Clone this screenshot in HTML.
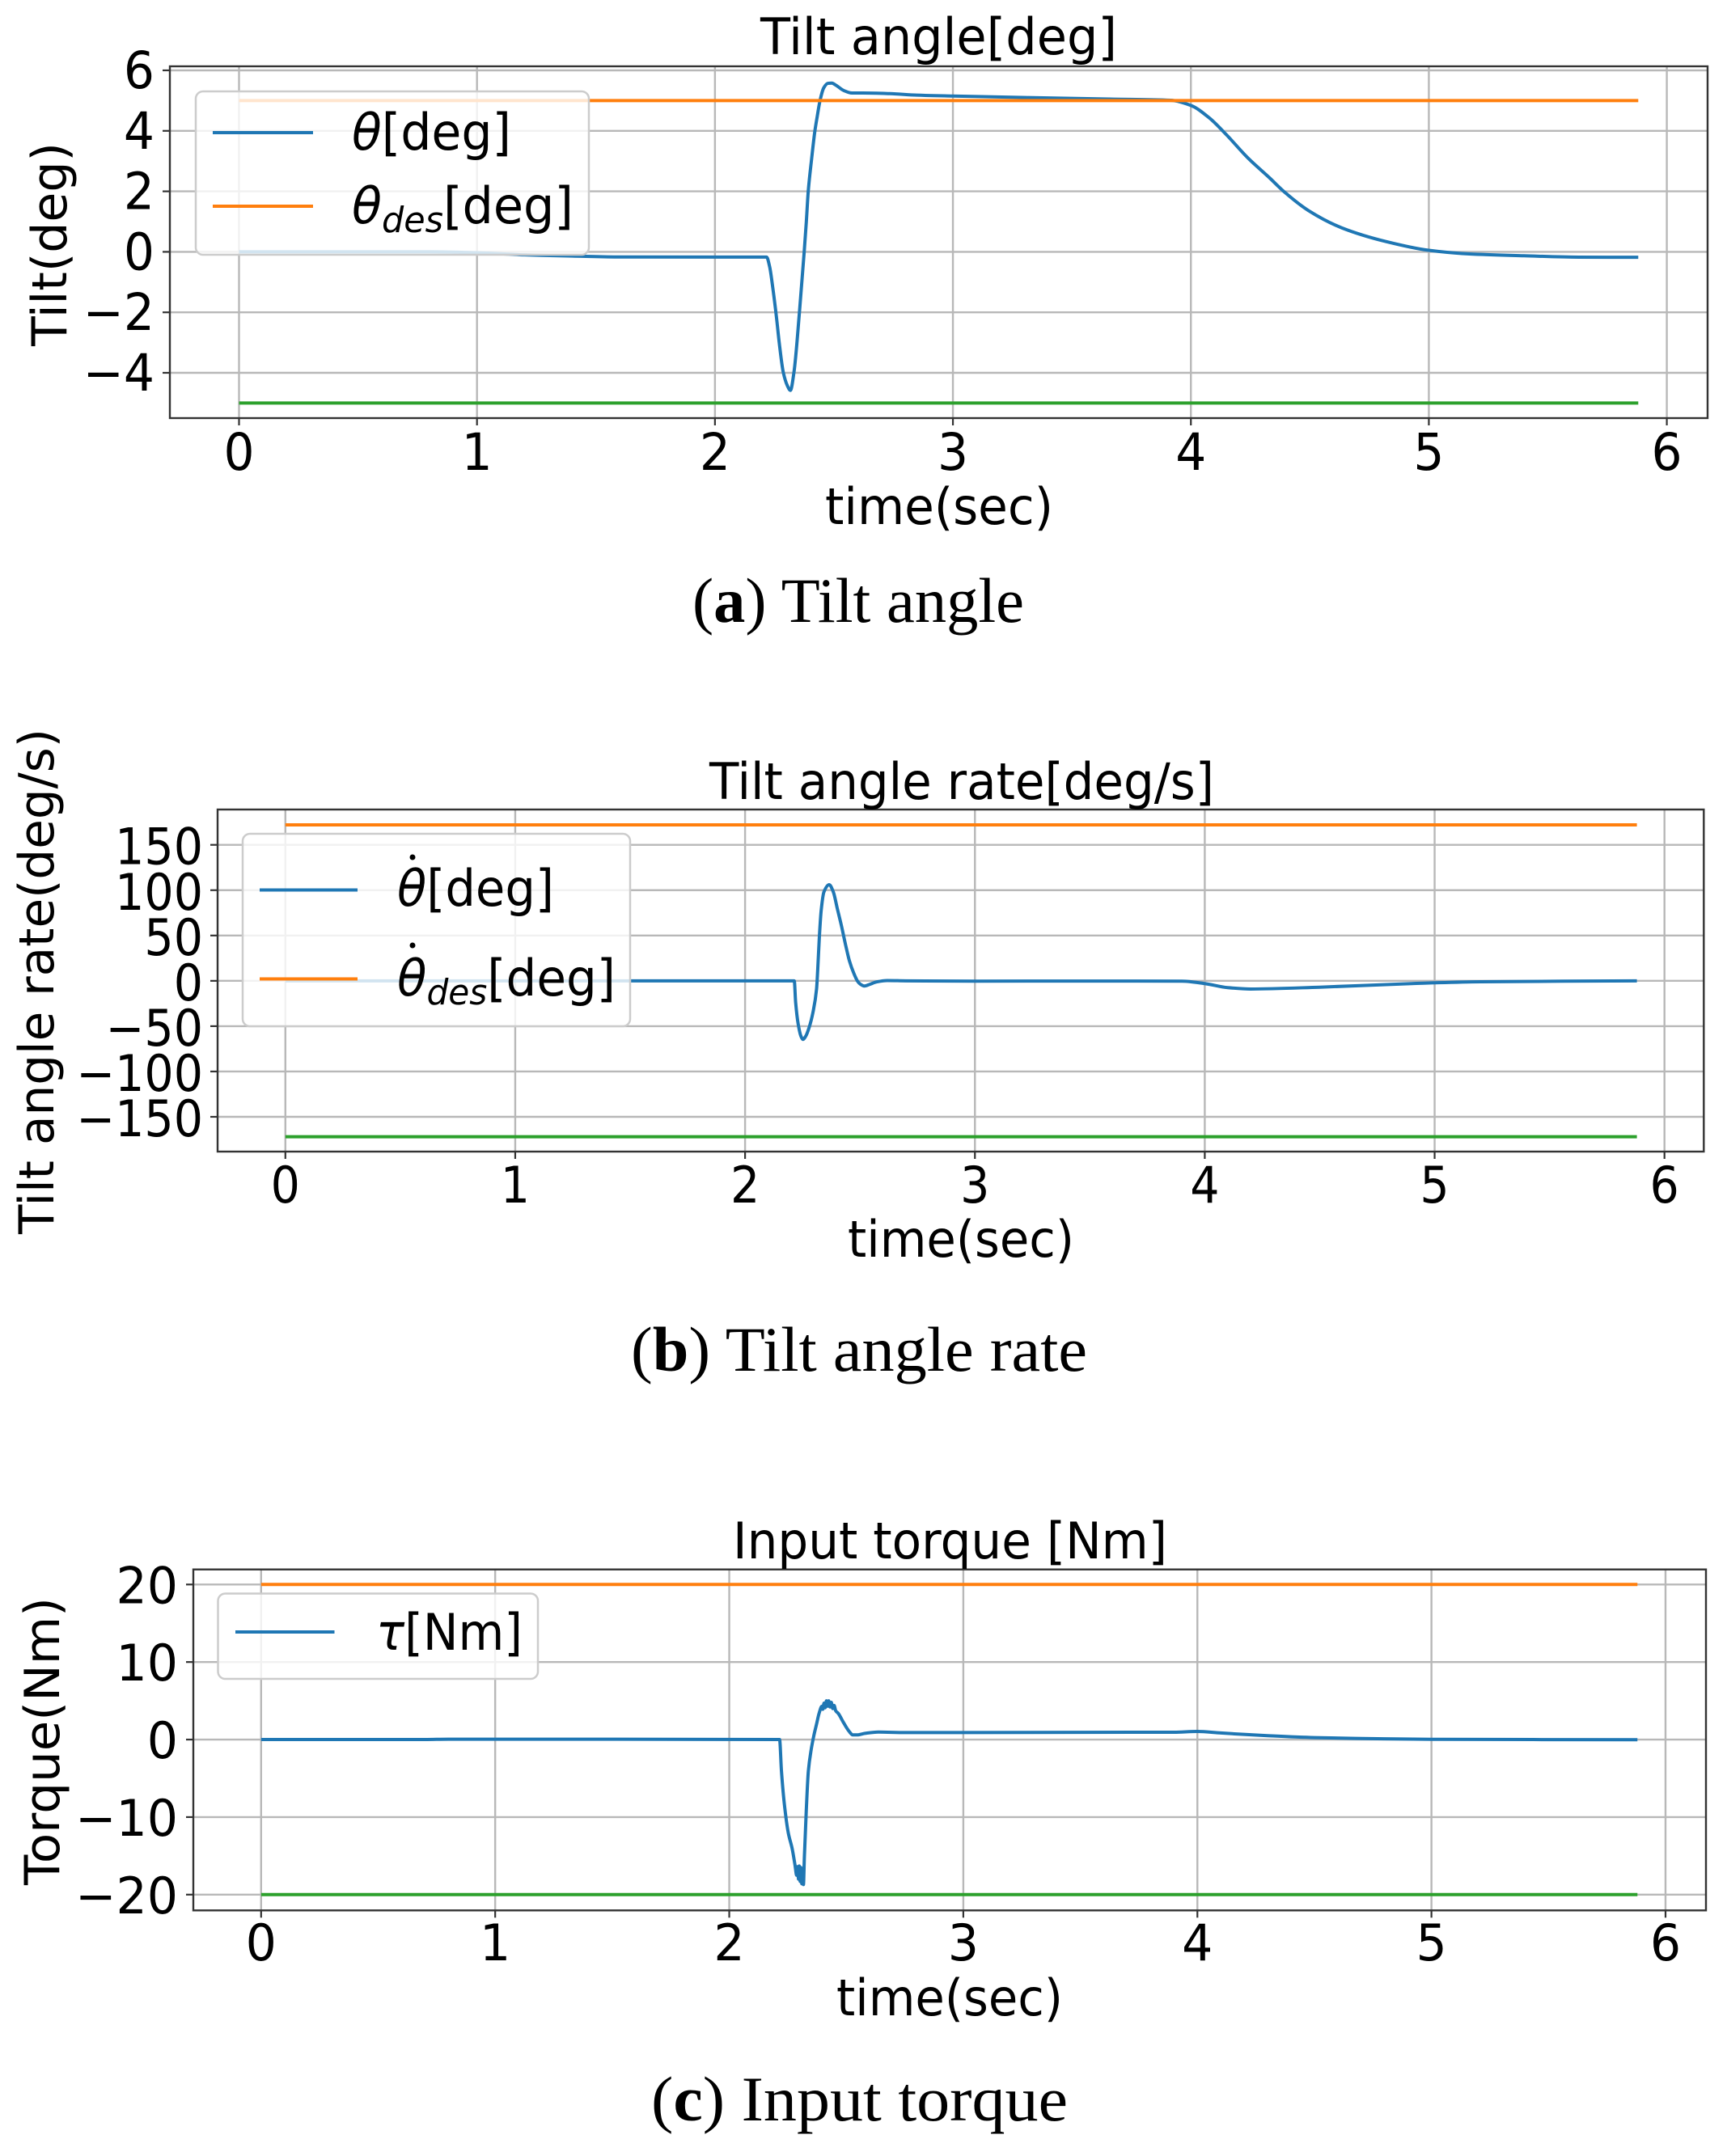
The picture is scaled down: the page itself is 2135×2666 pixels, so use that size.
<!DOCTYPE html>
<html lang="en">
<head>
<meta charset="utf-8">
<title>Tilt angle, tilt rate and input torque</title>
<style>
html,body{margin:0;padding:0;background:#fff;}
svg{display:block;}
text{font-family:"DejaVu Sans",sans-serif;fill:#000;}
.cap{font-family:"Liberation Serif",serif;font-size:78px;fill:#000;}
.lbl{font-size:62px;}
.rot{font-size:60px;}
.leg{font-size:62px;}
.i{font-style:italic;}
.legbox{fill:#fff;fill-opacity:.8;stroke:#ccc;stroke-width:2.5;}
</style>
</head>
<body>
<svg id="fig" xmlns="http://www.w3.org/2000/svg" width="2135" height="2666" viewBox="0 0 2135 2666">
  <rect x="0" y="0" width="2135" height="2666" fill="#fff"/>

  <!-- Panel A -->
  <g id="plotA"></g>
  <text class="lbl" x="940" y="67" textLength="441" lengthAdjust="spacingAndGlyphs">Tilt angle[deg]</text>
  <text class="lbl" x="1020" y="648" textLength="282" lengthAdjust="spacingAndGlyphs">time(sec)</text>
  <text class="rot" transform="translate(82,428) rotate(-90)" x="0" y="0" textLength="252" lengthAdjust="spacingAndGlyphs">Tilt(deg)</text>
  <g>
    <rect class="legbox" x="242" y="113" width="486" height="202" rx="9"/>
    <line x1="263" x2="387" y1="164" y2="164" stroke="#1f77b4" stroke-width="4"/>
    <line x1="263" x2="387" y1="255" y2="255" stroke="#ff7f0e" stroke-width="4"/>
    <text class="leg" x="435" y="185" textLength="197" lengthAdjust="spacingAndGlyphs"><tspan class="i">θ</tspan>[deg]</text>
    <text class="leg" x="435" y="276" textLength="274" lengthAdjust="spacingAndGlyphs"><tspan class="i">θ</tspan><tspan class="i" font-size="44" dy="11">des</tspan><tspan dy="-11">[deg]</tspan></text>
  </g>
  <text class="cap" x="856" y="769" textLength="410" lengthAdjust="spacingAndGlyphs">(<tspan font-weight="bold">a</tspan>) Tilt angle</text>

  <!-- Panel B -->
  <g id="plotB"></g>
  <text class="lbl" x="877" y="988" textLength="624" lengthAdjust="spacingAndGlyphs">Tilt angle rate[deg/s]</text>
  <text class="lbl" x="1048" y="1554" textLength="280" lengthAdjust="spacingAndGlyphs">time(sec)</text>
  <text class="rot" transform="translate(66,1526) rotate(-90)" x="0" y="0" textLength="625" lengthAdjust="spacingAndGlyphs">Tilt angle rate(deg/s)</text>
  <g>
    <rect class="legbox" x="300" y="1031" width="479" height="238" rx="9"/>
    <line x1="321" x2="442" y1="1100.5" y2="1100.5" stroke="#1f77b4" stroke-width="4"/>
    <line x1="321" x2="442" y1="1210.5" y2="1210.5" stroke="#ff7f0e" stroke-width="4"/>
    <circle cx="510" cy="1060" r="3.5" fill="#000"/>
    <circle cx="510" cy="1169" r="3.5" fill="#000"/>
    <text class="leg" x="491" y="1120" textLength="194" lengthAdjust="spacingAndGlyphs"><tspan class="i">θ</tspan>[deg]</text>
    <text class="leg" x="491" y="1231" textLength="270" lengthAdjust="spacingAndGlyphs"><tspan class="i">θ</tspan><tspan class="i" font-size="44" dy="11">des</tspan><tspan dy="-11">[deg]</tspan></text>
  </g>
  <text class="cap" x="780" y="1695" textLength="564" lengthAdjust="spacingAndGlyphs">(<tspan font-weight="bold">b</tspan>) Tilt angle rate</text>

  <!-- Panel C -->
  <g id="plotC"></g>
  <text class="lbl" x="906" y="1927" textLength="537" lengthAdjust="spacingAndGlyphs">Input torque [Nm]</text>
  <text class="lbl" x="1034" y="2492" textLength="280" lengthAdjust="spacingAndGlyphs">time(sec)</text>
  <text class="rot" transform="translate(73,2331) rotate(-90)" x="0" y="0" textLength="356" lengthAdjust="spacingAndGlyphs">Torque(Nm)</text>
  <g>
    <rect class="legbox" x="269.5" y="1970.5" width="395.5" height="105.5" rx="9"/>
    <line x1="291" x2="413.5" y1="2018" y2="2018" stroke="#1f77b4" stroke-width="4"/>
    <text class="leg" x="465" y="2040" textLength="181" lengthAdjust="spacingAndGlyphs"><tspan class="i">τ</tspan>[Nm]</text>
  </g>
  <text class="cap" x="805" y="2622" textLength="515" lengthAdjust="spacingAndGlyphs">(<tspan font-weight="bold">c</tspan>) Input torque</text>
</svg>

<script>
// ---------- Panel A data ----------
const aXTicks = [0, 1, 2, 3, 4, 5, 6];
const aXTickLabels = ['0', '1', '2', '3', '4', '5', '6'];
const aYTicks = [-4, -2, 0, 2, 4, 6];
const aYTickLabels = ['\u22124', '\u22122', '0', '2', '4', '6'];
const aTime = [0, 0.8, 1.0, 1.2, 1.4, 1.6, 2.055, 2.217, 2.230, 2.242, 2.259, 2.270, 2.287, 2.304, 2.317, 2.332, 2.355, 2.375, 2.384, 2.392, 2.406, 2.42, 2.429, 2.442, 2.457, 2.474, 2.491, 2.508, 2.542, 2.576, 2.621, 2.735, 2.848, 3.0, 3.31, 3.66, 3.915, 4.0, 4.077, 4.147, 4.24, 4.33, 4.39, 4.495, 4.635, 4.82, 5.0, 5.17, 5.40, 5.63, 5.88];
const aTheta = [0, 0, -0.03, -0.10, -0.14, -0.17, -0.174, -0.174, -0.50, -1.13, -2.20, -3.00, -3.98, -4.42, -4.58, -3.98, -2.0, 0.0, 1.0, 2.0, 3.06, 4.0, 4.44, 5.02, 5.42, 5.57, 5.58, 5.51, 5.33, 5.25, 5.25, 5.23, 5.18, 5.15, 5.10, 5.05, 5.01, 4.84, 4.43, 3.89, 3.1, 2.45, 2.0, 1.36, 0.79, 0.34, 0.05, -0.07, -0.13, -0.176, -0.18];
const aLimitTime = [0, 5.88];
const aUpper = [5, 5];
const aLower = [-5, -5];

// ---------- Panel B data ----------
const bXTicks = [0, 1, 2, 3, 4, 5, 6];
const bXTickLabels = ['0', '1', '2', '3', '4', '5', '6'];
const bYTicks = [-150, -100, -50, 0, 50, 100, 150];
const bYTickLabels = ['\u2212150', '\u2212100', '\u221250', '0', '50', '100', '150'];
const bTime = [0, 2.214, 2.22, 2.231, 2.243, 2.252, 2.264, 2.278, 2.296, 2.311, 2.316, 2.323, 2.331, 2.343, 2.366, 2.384, 2.401, 2.419, 2.437, 2.454, 2.472, 2.49, 2.501, 2.519, 2.542, 2.572, 2.619, 2.70, 3.0, 3.5, 3.9, 4.0, 4.1, 4.2, 4.5, 4.9, 5.2, 5.88];
const bRate = [0, 0, -23.8, -47.6, -61, -64.6, -61, -52, -34, -9, 12, 47.6, 77.4, 98, 106, 98, 80, 61, 40, 22, 9, -0.6, -3.6, -5.7, -3.9, -1.2, 0.3, 0, -0.3, -0.2, -0.3, -3, -7.5, -9, -7, -3, -1, 0];
const bLimitTime = [0, 5.88];
const bUpper = [172, 172];
const bLower = [-172, -172];

// ---------- Panel C data ----------
const cXTicks = [0, 1, 2, 3, 4, 5, 6];
const cXTickLabels = ['0', '1', '2', '3', '4', '5', '6'];
const cYTicks = [-20, -10, 0, 10, 20];
const cYTickLabels = ['\u221220', '\u221210', '0', '10', '20'];
const cTime = [0, 0.7, 0.8, 2.215, 2.223, 2.235, 2.252, 2.269, 2.281, 2.288, 2.292, 2.296, 2.299, 2.303, 2.306, 2.310, 2.314, 2.317, 2.321, 2.329, 2.338, 2.35, 2.361, 2.373, 2.384, 2.396, 2.40, 2.405, 2.41, 2.415, 2.42, 2.425, 2.43, 2.436, 2.442, 2.448, 2.455, 2.465, 2.488, 2.511, 2.528, 2.545, 2.58, 2.637, 2.75, 3.0, 3.9, 4.0, 4.1, 4.3, 4.5, 4.8, 5.0, 5.88];
const cTorque = [0, 0, 0.05, 0, -4.05, -8.2, -12, -14.1, -16.2, -17.5, -16.4, -18, -16.3, -18.3, -16.5, -18.6, -16.8, -18.7, -15.1, -9.2, -4.05, -1.3, 0.45, 2, 3.4, 4.3, 3.9, 4.7, 4.1, 5.0, 4.3, 5.0, 4.2, 4.8, 4.0, 4.4, 3.7, 3.4, 2.2, 1.1, 0.6, 0.6, 0.8, 0.97, 0.9, 0.9, 0.95, 1.05, 0.85, 0.5, 0.25, 0.1, 0.03, -0.02];
const cLimitTime = [0, 5.88];
const cUpper = [20, 20];
const cLower = [-20, -20];

const SVGNS = 'http://www.w3.org/2000/svg';

function makeScale(d0, p0, d1, p1) {
  return function (v) { return p0 + (v - d0) * (p1 - p0) / (d1 - d0); };
}

function mk(parent, tag, attrs) {
  const n = document.createElementNS(SVGNS, tag);
  for (const k in attrs) n.setAttribute(k, attrs[k]);
  parent.appendChild(n);
  return n;
}

// Monotone cubic path through the read data points, so slow curves stay smooth with no overshoot.
function pathFrom(xs, ys, sx, sy) {
  const X = xs.map(sx), Y = ys.map(sy), n = X.length;
  const d = [], m = [];
  for (let i = 0; i < n - 1; i++) d.push((Y[i + 1] - Y[i]) / (X[i + 1] - X[i]));
  m[0] = d[0];
  m[n - 1] = d[n - 2];
  for (let i = 1; i < n - 1; i++) {
    if (d[i - 1] * d[i] <= 0) {
      m[i] = 0;
    } else {
      const w1 = 2 * (X[i + 1] - X[i]) + (X[i] - X[i - 1]);
      const w2 = (X[i + 1] - X[i]) + 2 * (X[i] - X[i - 1]);
      m[i] = (w1 + w2) / (w1 / d[i - 1] + w2 / d[i]);
    }
  }
  let out = 'M' + X[0].toFixed(2) + ' ' + Y[0].toFixed(2);
  for (let i = 0; i < n - 1; i++) {
    const h = (X[i + 1] - X[i]) / 3;
    out += 'C' + (X[i] + h).toFixed(2) + ' ' + (Y[i] + m[i] * h).toFixed(2) + ' ' +
      (X[i + 1] - h).toFixed(2) + ' ' + (Y[i + 1] - m[i + 1] * h).toFixed(2) + ' ' +
      X[i + 1].toFixed(2) + ' ' + Y[i + 1].toFixed(2);
  }
  return out;
}

function drawPanel(group, box, sx, sy, xTicks, xLabels, yTicks, yLabels, series, tickStyle) {
  xTicks.forEach(function (t, i) {
    const g = mk(group, 'line', { x1: sx(t), x2: sx(t), y1: box.top, y2: box.bottom, stroke: '#b8b8b8', 'stroke-width': 2.4 });
    
    
    const m = mk(group, 'line', { x1: sx(t), x2: sx(t), y1: box.bottom, y2: box.bottom + 9, stroke: '#333', 'stroke-width': 2.2 });
    
    
    const lab = mk(group, 'text', { transform: 'translate(' + sx(t) + ',' + tickStyle.xBase + ') scale(' + tickStyle.sx + ',1)', 'text-anchor': 'middle', 'font-size': tickStyle.size });
    lab.textContent = xLabels[i];
    
    
  });
  yTicks.forEach(function (v, i) {
    const g = mk(group, 'line', { x1: box.left, x2: box.right, y1: sy(v), y2: sy(v), stroke: '#b8b8b8', 'stroke-width': 2.4 });
    
    
    const m = mk(group, 'line', { x1: box.left - 9, x2: box.left, y1: sy(v), y2: sy(v), stroke: '#333', 'stroke-width': 2.2 });
    
    
    const lab = mk(group, 'text', { transform: 'translate(' + tickStyle.yRight + ',' + (sy(v) + tickStyle.yOff) + ') scale(' + tickStyle.sx + ',1)', 'text-anchor': 'end', 'font-size': tickStyle.size });
    lab.textContent = yLabels[i];
    
    
  });
  series.forEach(function (s) {
    const p = mk(group, 'path', { d: pathFrom(s.x, s.y, sx, sy), fill: 'none', stroke: s.color, 'stroke-width': 4, 'stroke-linejoin': 'round' });
    
    
  });
  const frame = mk(group, 'rect', { x: box.left, y: box.top, width: box.right - box.left, height: box.bottom - box.top, fill: 'none', stroke: '#333', 'stroke-width': 2.4 });
  
  
}

drawPanel(
  document.getElementById('plotA'),
  { left: 210, right: 2111, top: 82, bottom: 517 },
  makeScale(0, 295.5, 6, 2060.6), makeScale(-4, 461, 6, 87),
  aXTicks, aXTickLabels, aYTicks, aYTickLabels,
  [
    { x: aTime, y: aTheta, color: '#1f77b4', name: 'theta-line' },
    { x: aLimitTime, y: aUpper, color: '#ff7f0e', name: 'theta-upper-limit-line' },
    { x: aLimitTime, y: aLower, color: '#2ca02c', name: 'theta-lower-limit-line' }
  ],
  { size: 63, sx: 0.95, xBase: 581, yRight: 191, yOff: 22 }
);

drawPanel(
  document.getElementById('plotB'),
  { left: 269, right: 2106.3, top: 1001, bottom: 1424 },
  makeScale(0, 352.8, 6, 2057.7), makeScale(-150, 1381, 150, 1044.7),
  bXTicks, bXTickLabels, bYTicks, bYTickLabels,
  [
    { x: bTime, y: bRate, color: '#1f77b4', name: 'theta-dot-line' },
    { x: bLimitTime, y: bUpper, color: '#ff7f0e', name: 'theta-dot-upper-limit-line' },
    { x: bLimitTime, y: bLower, color: '#2ca02c', name: 'theta-dot-lower-limit-line' }
  ],
  { size: 62, sx: 0.92, xBase: 1487, yRight: 251, yOff: 24 }
);

drawPanel(
  document.getElementById('plotC'),
  { left: 239, right: 2109, top: 1940.7, bottom: 2362.3 },
  makeScale(0, 322.8, 6, 2059), makeScale(-20, 2342.8, 20, 1959.3),
  cXTicks, cXTickLabels, cYTicks, cYTickLabels,
  [
    { x: cTime, y: cTorque, color: '#1f77b4', name: 'torque-line' },
    { x: cLimitTime, y: cUpper, color: '#ff7f0e', name: 'torque-upper-limit-line' },
    { x: cLimitTime, y: cLower, color: '#2ca02c', name: 'torque-lower-limit-line' }
  ],
  { size: 62, sx: 0.97, xBase: 2424, yRight: 220, yOff: 23 }
);
</script>
</body>
</html>
